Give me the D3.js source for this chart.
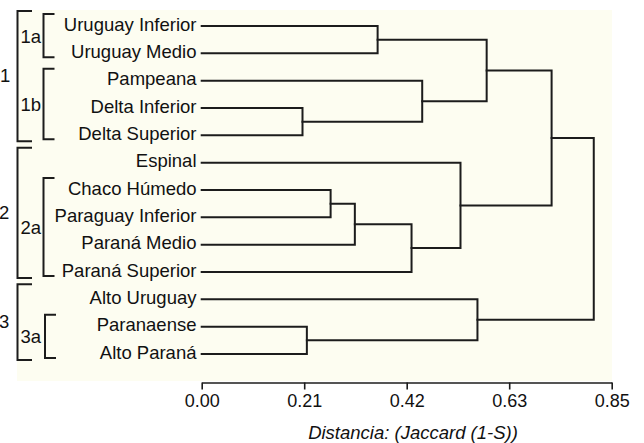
<!DOCTYPE html>
<html>
<head>
<meta charset="utf-8">
<script src="https://cdn.jsdelivr.net/npm/d3@7"></script>
<style>
  html, body { margin: 0; padding: 0; background: #ffffff; }
  svg { display: block; }
  text { font-family: "Liberation Sans", Arial, Helvetica, sans-serif; fill: #111; }
</style>
</head>
<body>
<svg id="chart" width="644" height="443"></svg>
<script>
// ---- data ----
const leaves = ["Uruguay Inferior", "Uruguay Medio", "Pampeana", "Delta Inferior", "Delta Superior",
  "Espinal", "Chaco Húmedo", "Paraguay Inferior", "Paraná Medio", "Paraná Superior",
  "Alto Uruguay", "Paranaense", "Alto Paraná"];

// merges (m0..m11): left child, right child, distance
const mergeLeft  = ["Uruguay Inferior", "Delta Inferior", "Pampeana", "m0", "Chaco Húmedo", "m4", "m5", "Espinal", "m3", "Paranaense", "Alto Uruguay", "m8"];
const mergeRight = ["Uruguay Medio", "Delta Superior", "m1", "m2", "Paraguay Inferior", "Paraná Medio", "Paraná Superior", "m6", "m7", "Alto Paraná", "m9", "m10"];
const mergeDist  = [0.363, 0.208, 0.455, 0.588, 0.266, 0.316, 0.433, 0.534, 0.722, 0.217, 0.569, 0.809];

const outerGroups = ["1", "2", "3"];
const outerFirst  = ["Uruguay Inferior", "Espinal", "Alto Uruguay"];
const outerLast   = ["Delta Superior", "Paraná Superior", "Alto Paraná"];

const innerGroups = ["1a", "1b", "2a", "3a"];
const innerFirst  = ["Uruguay Inferior", "Pampeana", "Chaco Húmedo", "Paranaense"];
const innerLast   = ["Uruguay Medio", "Delta Superior", "Paraná Superior", "Alto Paraná"];

const axisMax = 0.846;
const tickLabels = ["0.00", "0.21", "0.42", "0.63", "0.85"];
const axisTitle = "Distancia: (Jaccard (1-S))";

// ---- layout ----
const svg = d3.select("#chart");
const x = d3.scaleLinear().domain([0, axisMax]).range([201.7, 611.7]);
const y = d3.scalePoint().domain(leaves).range([26, 354]);
const ink = "#1c1c1c";

// background panel
svg.append("rect").attr("x", 17).attr("y", 10).attr("width", 612 - 17).attr("height", 381 - 10)
  .attr("fill", "#fdfdf1");

// node positions
const pos = {};
leaves.forEach(l => pos[l] = { y: y(l), d: 0 });
mergeDist.forEach((d, i) => {
  const a = pos[mergeLeft[i]], b = pos[mergeRight[i]];
  pos["m" + i] = { y: (a.y + b.y) / 2, d: d };
});

const g = svg.append("g").attr("fill", "none").attr("stroke", ink).attr("stroke-width", 2)
  .attr("stroke-linecap", "square");
mergeDist.forEach((d, i) => {
  const a = pos[mergeLeft[i]], b = pos[mergeRight[i]];
  const path = d3.path();
  path.moveTo(x(a.d), a.y);
  path.lineTo(x(d), a.y);
  path.lineTo(x(d), b.y);
  path.lineTo(x(b.d), b.y);
  g.append("path").attr("d", path.toString()).attr("stroke-linejoin", "miter");
});

// leaf labels
svg.append("g").selectAll("text").data(leaves).join("text")
  .attr("x", 196.5).attr("y", d => y(d) + 4.8)
  .attr("text-anchor", "end").attr("font-size", 18.5).text(d => d);

// brackets
const bg = svg.append("g");
function bracket(x0, x1, yTop, yBot) {
  bg.append("path").attr("d", `M${x1},${yTop}H${x0}V${yBot}H${x1}`)
    .attr("fill", "none").attr("stroke", ink).attr("stroke-width", 2);
}
outerGroups.forEach((name, i) => {
  const t = y(outerFirst[i]) - 15, b = y(outerLast[i]) + 6;
  bracket(17.5, 32, t, b);
  bg.append("text").attr("x", name === "1" ? 0 : -1).attr("y", (t + b) / 2 + 6)
    .attr("font-size", 18.5).text(name);
});
innerGroups.forEach((name, i) => {
  const t = y(innerFirst[i]) - 12, b = y(innerLast[i]) + 4;
  const xb = name === "3a" ? 45 : 43.5;
  bracket(xb, xb + 11, t, b);
  bg.append("text").attr("x", 20.5).attr("y", (t + b) / 2 + 7)
    .attr("font-size", 18.5).text(name);
});

// axis
const ticks = d3.range(5).map(i => axisMax * i / 4);
const axis = d3.axisBottom(x).tickValues(ticks).tickFormat((d, i) => tickLabels[i])
  .tickSize(7).tickSizeOuter(0).tickPadding(5);
const ax = svg.append("g").attr("transform", "translate(0,382.5)").call(axis);
ax.selectAll("path, line").attr("stroke", ink).attr("stroke-width", 1.6);
ax.selectAll("text").attr("font-size", 18).attr("fill", "#111")
  .attr("font-family", "'Liberation Sans', Arial, sans-serif");

svg.append("text").attr("x", 413).attr("y", 439).attr("text-anchor", "middle")
  .attr("font-size", 18.5).attr("font-style", "italic").text(axisTitle);
</script>
</body>
</html>
